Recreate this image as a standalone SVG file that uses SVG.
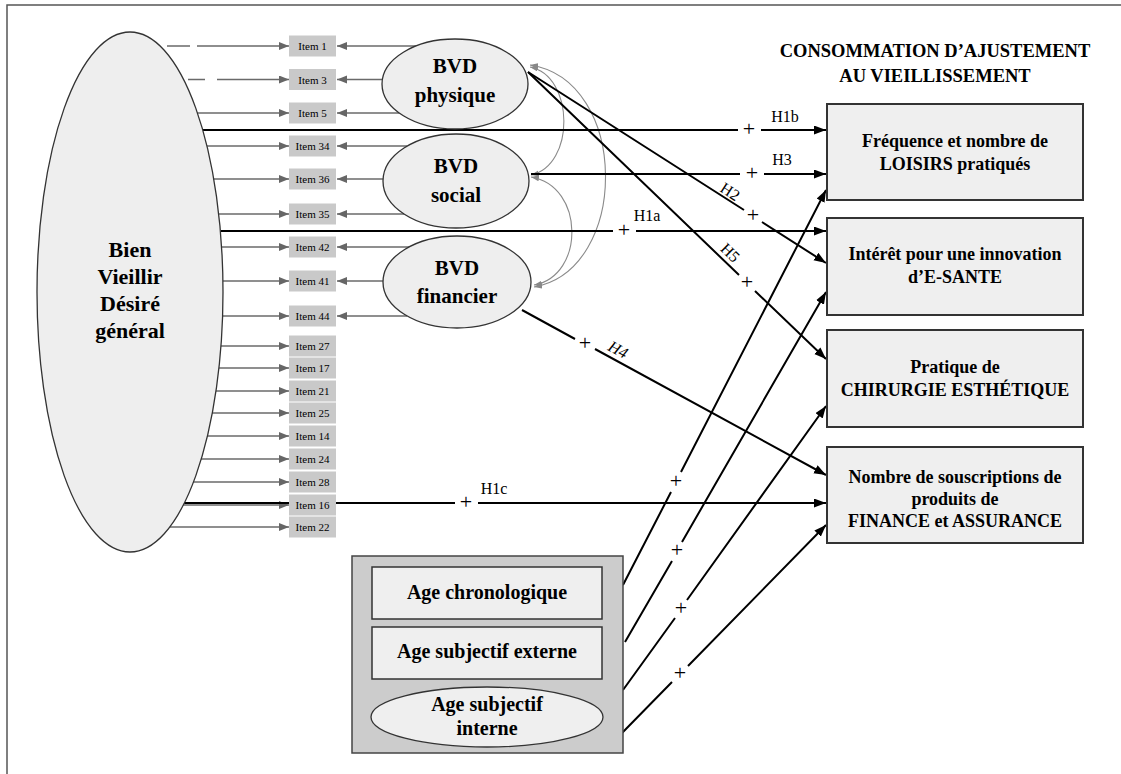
<svg xmlns="http://www.w3.org/2000/svg" width="1121" height="774" viewBox="0 0 1121 774">
<defs>
<marker id="ab" markerUnits="userSpaceOnUse" markerWidth="13" markerHeight="10" refX="12" refY="4.5" orient="auto"><path d="M0,0 L12,4.5 L0,9 z" fill="#000"/></marker>
<marker id="ag" markerUnits="userSpaceOnUse" markerWidth="11" markerHeight="9" refX="10" refY="4" orient="auto"><path d="M0,0 L10,4 L0,8 z" fill="#666"/></marker>
<marker id="ac" markerUnits="userSpaceOnUse" markerWidth="9" markerHeight="7" refX="8" refY="3" orient="auto-start-reverse"><path d="M0,0 L8,3 L0,6 z" fill="#888"/></marker>
</defs>
<style>
.t{font-family:"Liberation Serif","Times New Roman",serif;fill:#000}
.b{font-weight:bold}
.node{fill:#eeeeee;stroke:#333;stroke-width:1.3}
.box{fill:#efefef;stroke:#333;stroke-width:2}
.item{fill:#c9c9c9}
.it{font-size:11px;text-anchor:middle}
.gl{stroke:#6a6a6a;stroke-width:1.6;fill:none}
.bl{stroke:#000;stroke-width:2;fill:none}
.cl{stroke:#8a8a8a;stroke-width:1.1;fill:none}
.pl{font-size:22px;text-anchor:middle}
.hl{font-size:16px;text-anchor:middle}
.bt{font-size:18px;text-anchor:middle;font-weight:bold}
</style>
<rect width="1121" height="774" fill="#fff"/>
<path d="M7,774 V5 H1121" fill="none" stroke="#555" stroke-width="1.5"/>

<g id="connectors">
<g class="gl" marker-end="url(#ag)">
<path d="M167,46 H190 M197,46 H289"/>
<path d="M188,79.5 H205 M217,79.5 H289"/>
<path d="M197,113 H289"/>
<path d="M207,146 H289"/>
<path d="M214,179 H289"/>
<path d="M219,214 H289"/>
<path d="M222,247 H289"/>
<path d="M223,281 H289"/>
<path d="M222.5,316 H289"/>
<path d="M221,346 H289"/>
<path d="M219,368 H289"/>
<path d="M216,391 H289"/>
<path d="M212,413 H289"/>
<path d="M207,436 H289"/>
<path d="M201,459 H289"/>
<path d="M193.5,482 H289"/>
<path d="M183,505 H289"/>
<path d="M170,527 H289"/>
<path d="M416,46 H337"/>
<path d="M383,79.5 H337"/>
<path d="M399,113 H337"/>
<path d="M407,146 H337"/>
<path d="M383,179 H337"/>
<path d="M404,214 H337"/>
<path d="M409,247 H337"/>
<path d="M383,281 H337"/>
<path d="M407,316 H337"/>
</g>
<g class="cl" marker-start="url(#ac)" marker-end="url(#ac)">
<path d="M530,67 C575,76 575,166 531,175"/>
<path d="M531,177 C585,186 585,276 534,285"/>
<path d="M530,65 C630,80 630,270 534,287"/>
</g>
<g class="bl" marker-end="url(#ab)">
<path d="M203,130 H738 M761,130 H826"/>
<path d="M531,174 H740 M764,174 H826"/>
<path d="M221,231 H613 M636,231 H826"/>
<path d="M183,503 H455 M478,503 H826"/>
<path d="M528,72 L744,210 M762,222 L826,263"/>
<path d="M528,72 L739,275 M755,291 L826,359"/>
<path d="M522,310 L575,339 M595,349 L826,475"/>
<path d="M623,585 L671,492 M681,472 L826,190"/>
<path d="M625,642 L672,561 M682,542 L826,292"/>
<path d="M623,690 L675,618 M687,600 L826,406"/>
<path d="M622,733 L672,682 M688,666 L826,525"/>
</g>
<g class="t">
<text class="pl" x="749" y="135.5">+</text>
<text class="pl" x="752" y="179.5">+</text>
<text class="pl" x="624" y="236.5">+</text>
<text class="pl" x="466" y="508.5">+</text>
<text class="pl" x="753" y="221.5">+</text>
<text class="pl" x="747" y="288.5">+</text>
<text class="pl" x="585" y="349.5">+</text>
<text class="pl" x="676" y="487.5">+</text>
<text class="pl" x="677" y="556.5">+</text>
<text class="pl" x="681" y="614.5">+</text>
<text class="pl" x="680" y="679.5">+</text>
<text class="hl" x="785" y="122">H1b</text>
<text class="hl" x="782" y="165">H3</text>
<text class="hl" x="647" y="221">H1a</text>
<text class="hl" x="494" y="494">H1c</text>
<text class="hl" transform="translate(730,192) rotate(33)" x="0" y="5">H2</text>
<text class="hl" transform="translate(730,253) rotate(44)" x="0" y="5">H5</text>
<text class="hl" transform="translate(618,350) rotate(28)" x="0" y="5" font-style="italic">H4</text>
</g>
</g>

<g id="n-bvdg">
<ellipse class="node" cx="130" cy="292" rx="93" ry="260"/>
<text class="t b" font-size="22" text-anchor="middle"><tspan x="130" y="257">Bien</tspan><tspan x="130" y="284">Vieillir</tspan><tspan x="130" y="311">Désiré</tspan><tspan x="130" y="338">général</tspan></text>
</g>

<g id="n-items" class="t">
<g id="i1"><rect class="item" x="289" y="35.5" width="47" height="21"/><text class="it" x="312.5" y="50">Item 1</text></g>
<g id="i3"><rect class="item" x="289" y="69" width="47" height="21"/><text class="it" x="312.5" y="83.5">Item 3</text></g>
<g id="i5"><rect class="item" x="289" y="102.5" width="47" height="21"/><text class="it" x="312.5" y="117">Item 5</text></g>
<g id="i34"><rect class="item" x="289" y="135.5" width="47" height="21"/><text class="it" x="312.5" y="150">Item 34</text></g>
<g id="i36"><rect class="item" x="289" y="168.5" width="47" height="21"/><text class="it" x="312.5" y="183">Item 36</text></g>
<g id="i35"><rect class="item" x="289" y="203.5" width="47" height="21"/><text class="it" x="312.5" y="218">Item 35</text></g>
<g id="i42"><rect class="item" x="289" y="236.5" width="47" height="21"/><text class="it" x="312.5" y="251">Item 42</text></g>
<g id="i41"><rect class="item" x="289" y="270.5" width="47" height="21"/><text class="it" x="312.5" y="285">Item 41</text></g>
<g id="i44"><rect class="item" x="289" y="305.5" width="47" height="21"/><text class="it" x="312.5" y="320">Item 44</text></g>
<g id="i27"><rect class="item" x="289" y="335.5" width="47" height="21"/><text class="it" x="312.5" y="350">Item 27</text></g>
<g id="i17"><rect class="item" x="289" y="357.5" width="47" height="21"/><text class="it" x="312.5" y="372">Item 17</text></g>
<g id="i21"><rect class="item" x="289" y="380.5" width="47" height="21"/><text class="it" x="312.5" y="395">Item 21</text></g>
<g id="i25"><rect class="item" x="289" y="402.5" width="47" height="21"/><text class="it" x="312.5" y="417">Item 25</text></g>
<g id="i14"><rect class="item" x="289" y="425.5" width="47" height="21"/><text class="it" x="312.5" y="440">Item 14</text></g>
<g id="i24"><rect class="item" x="289" y="448.5" width="47" height="21"/><text class="it" x="312.5" y="463">Item 24</text></g>
<g id="i28"><rect class="item" x="289" y="471.5" width="47" height="21"/><text class="it" x="312.5" y="486">Item 28</text></g>
<g id="i16"><rect class="item" x="289" y="494.5" width="47" height="21"/><text class="it" x="312.5" y="509">Item 16</text></g>
<g id="i22"><rect class="item" x="289" y="516.5" width="47" height="21"/><text class="it" x="312.5" y="531">Item 22</text></g>
</g>

<g id="n-phys">
<ellipse class="node" cx="455" cy="84" rx="73" ry="45"/>
<text class="t b" font-size="21" text-anchor="middle"><tspan x="455" y="73">BVD</tspan><tspan x="455" y="102">physique</tspan></text>
</g>
<g id="n-soc">
<ellipse class="node" cx="456" cy="181" rx="73" ry="47"/>
<text class="t b" font-size="21" text-anchor="middle"><tspan x="456" y="173">BVD</tspan><tspan x="456" y="202">social</tspan></text>
</g>
<g id="n-fin">
<ellipse class="node" cx="457" cy="282" rx="74" ry="46"/>
<text class="t b" font-size="21" text-anchor="middle"><tspan x="457" y="275">BVD</tspan><tspan x="457" y="303">financier</tspan></text>
</g>

<g id="title" class="t b" font-size="18.5" text-anchor="middle">
<text x="935" y="57">CONSOMMATION D’AJUSTEMENT</text>
<text x="935" y="82">AU VIEILLISSEMENT</text>
</g>

<g id="n-loisirs">
<rect class="box" x="827" y="104" width="256" height="96"/>
<text class="t bt"><tspan x="955" y="147">Fréquence et nombre de</tspan><tspan x="955" y="170">LOISIRS pratiqués</tspan></text>
</g>
<g id="n-esante">
<rect class="box" x="827" y="218" width="256" height="97"/>
<text class="t bt"><tspan x="955" y="260">Intérêt pour une innovation</tspan><tspan x="955" y="283">d’E-SANTE</tspan></text>
</g>
<g id="n-chir">
<rect class="box" x="827" y="330" width="256" height="97"/>
<text class="t bt"><tspan x="955" y="373">Pratique de</tspan><tspan x="955" y="396">CHIRURGIE ESTHÉTIQUE</tspan></text>
</g>
<g id="n-fin2">
<rect class="box" x="827" y="447" width="256" height="96"/>
<text class="t bt"><tspan x="955" y="483">Nombre de souscriptions de</tspan><tspan x="955" y="505">produits de</tspan><tspan x="955" y="527">FINANCE et ASSURANCE</tspan></text>
</g>

<g id="n-age">
<rect x="352" y="556" width="271" height="197" fill="#cccccc" stroke="#444" stroke-width="1.5"/>
<g id="n-agechrono">
<rect x="372" y="567" width="230" height="52" fill="#efefef" stroke="#333" stroke-width="1.5"/>
<text class="t b" font-size="20" text-anchor="middle" x="487" y="599">Age chronologique</text>
</g>
<g id="n-ageext">
<rect x="372" y="627" width="230" height="52" fill="#efefef" stroke="#333" stroke-width="1.5"/>
<text class="t b" font-size="20" text-anchor="middle" x="487" y="658">Age subjectif externe</text>
</g>
<g id="n-ageint">
<ellipse cx="487" cy="717" rx="116" ry="30" fill="#efefef" stroke="#333" stroke-width="1.3"/>
<text class="t b" font-size="20" text-anchor="middle"><tspan x="487" y="711">Age subjectif</tspan><tspan x="487" y="735">interne</tspan></text>
</g>
</g>
</svg>
